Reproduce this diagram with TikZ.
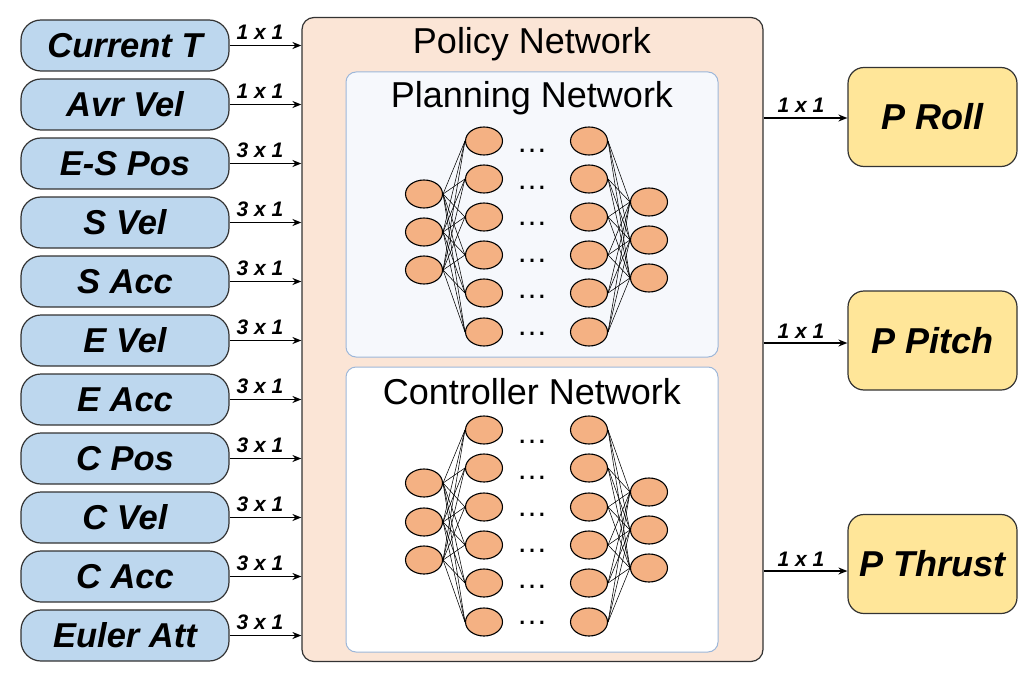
\documentclass[tikz,border=0pt]{standalone}
\usepackage{fontspec}
\setmainfont{Liberation Sans}
\usetikzlibrary{shapes.geometric,arrows.meta}
\definecolor{inblue}{HTML}{BDD7EE}
\definecolor{peach}{HTML}{FBE5D6}
\definecolor{panelfill}{HTML}{F6F8FC}
\definecolor{panelline}{HTML}{9DB7D9}
\definecolor{neuronfill}{HTML}{F4B183}
\definecolor{outyellow}{HTML}{FFE699}
\definecolor{boxline}{HTML}{333333}
\begin{document}
\begin{tikzpicture}[x=1pt,y=-1pt,
  inbox/.style={draw=boxline,line width=1.2pt,fill=inblue,rounded corners=20pt,
    minimum width=208pt,minimum height=51pt,inner sep=0pt,
    font=\fontsize{34.5}{38}\selectfont\bfseries\itshape},
  outbox/.style={draw=boxline,line width=1.2pt,fill=outyellow,rounded corners=16pt,
    minimum width=169pt,minimum height=99pt,inner sep=0pt,
    font=\fontsize{36}{40}\selectfont\bfseries\itshape},
  mainbox/.style={draw=boxline,line width=1.2pt,fill=peach,rounded corners=12pt,
    minimum width=461pt,minimum height=644pt,inner sep=0pt},
  panel/.style={draw=panelline,line width=1pt,rounded corners=10pt,
    minimum width=372pt,minimum height=285pt,inner sep=0pt},
  title/.style={font=\fontsize{36}{40}\selectfont,inner sep=0pt,anchor=base},
  neuron/.style={ellipse,draw=black,line width=1.1pt,fill=neuronfill,
    minimum width=37pt,minimum height=28pt,inner sep=0pt},
  edge/.style={line width=0.55pt,black},
  dots/.style={font=\fontsize{31}{33}\selectfont,inner sep=0pt,anchor=base},
  arr/.style={line width=1.5pt,-{Stealth[length=9pt,width=7pt]}},
  dim/.style={font=\fontsize{21}{24}\selectfont\bfseries\itshape,inner sep=0pt,anchor=base}
]
\useasboundingbox (0,0) rectangle (1030,682);

% main policy box
\node[mainbox] (main) at (532.5,339.5) {};
\node[title] (maintitle) at (532,54) {Policy Network};

% panels
\node[panel,fill=panelfill] (plan) at (532,214.5) {};
\node[title] (plantitle) at (532,108) {Planning Network};
\node[panel,fill=white] (ctrl) at (532,509.5) {};
\node[title] (ctrltitle) at (532,404) {Controller Network};

% inputs
\foreach \t/\d [count=\k from 0] in {Current T/1 x 1,Avr Vel/1 x 1,E-S Pos/3 x 1,S Vel/3 x 1,S Acc/3 x 1,E Vel/3 x 1,E Acc/3 x 1,C Pos/3 x 1,C Vel/3 x 1,C Acc/3 x 1,Euler Att/3 x 1}{
  \pgfmathsetmacro{\yy}{45.5+59*\k}
  \node[inbox] (in\k) at (125,\yy) {\t};
  \draw[arr] (in\k.east) -- (in\k.east -| main.west);
  \node[dim] (d\k) at (260,\yy-6) {\d};
}

% outputs
\node[outbox] (roll) at (932.5,117) {P Roll};
\node[outbox] (pitch) at (932.5,340.5) {P Pitch};
\node[outbox] (thrust) at (932.5,564) {P Thrust};
\coordinate (r1) at (0,118);
\coordinate (r2) at (0,343);
\coordinate (r3) at (0,571);
\draw[arr] (main.east |- r1) -- (roll.west |- r1);
\draw[arr] (main.east |- r2) -- (pitch.west |- r2);
\draw[arr] (main.east |- r3) -- (thrust.west |- r3);
\node[dim] (o1) at (801,113) {1 x 1};
\node[dim] (o2) at (801,338) {1 x 1};
\node[dim] (o3) at (801,566) {1 x 1};

% planning network neurons
\foreach \y [count=\k] in {194,232,270} \node[neuron] (pi\k) at (424,\y) {};
\foreach \y [count=\k] in {141,179,217,255,293,332} {
  \node[neuron] (ph\k) at (484,\y) {};
  \node[neuron] (pg\k) at (589,\y) {};
}
\foreach \y [count=\k] in {202,240,278} \node[neuron] (po\k) at (649,\y) {};
\foreach \a in {1,2,3} \foreach \b in {1,...,6} {
  \draw[edge] (pi\a.east) -- (ph\b.west);
  \draw[edge] (pg\b.east) -- (po\a.west);
}
\foreach \y [count=\k] in {151,188,224,261,297,334} \node[dots] (pd\k) at (532,\y+1.5) {…};

% controller network neurons
\foreach \y [count=\k] in {483,522,560} \node[neuron] (ci\k) at (424,\y) {};
\foreach \y [count=\k] in {430,468,507,545,583,622} {
  \node[neuron] (ch\k) at (484,\y) {};
  \node[neuron] (cg\k) at (589,\y) {};
}
\foreach \y [count=\k] in {492,530,568} \node[neuron] (co\k) at (649,\y) {};
\foreach \a in {1,2,3} \foreach \b in {1,...,6} {
  \draw[edge] (ci\a.east) -- (ch\b.west);
  \draw[edge] (cg\b.east) -- (co\a.west);
}
\foreach \y [count=\k] in {442,478,515,551,587,623} \node[dots] (cd\k) at (532,\y+1.5) {…};
\end{tikzpicture}
\end{document}
